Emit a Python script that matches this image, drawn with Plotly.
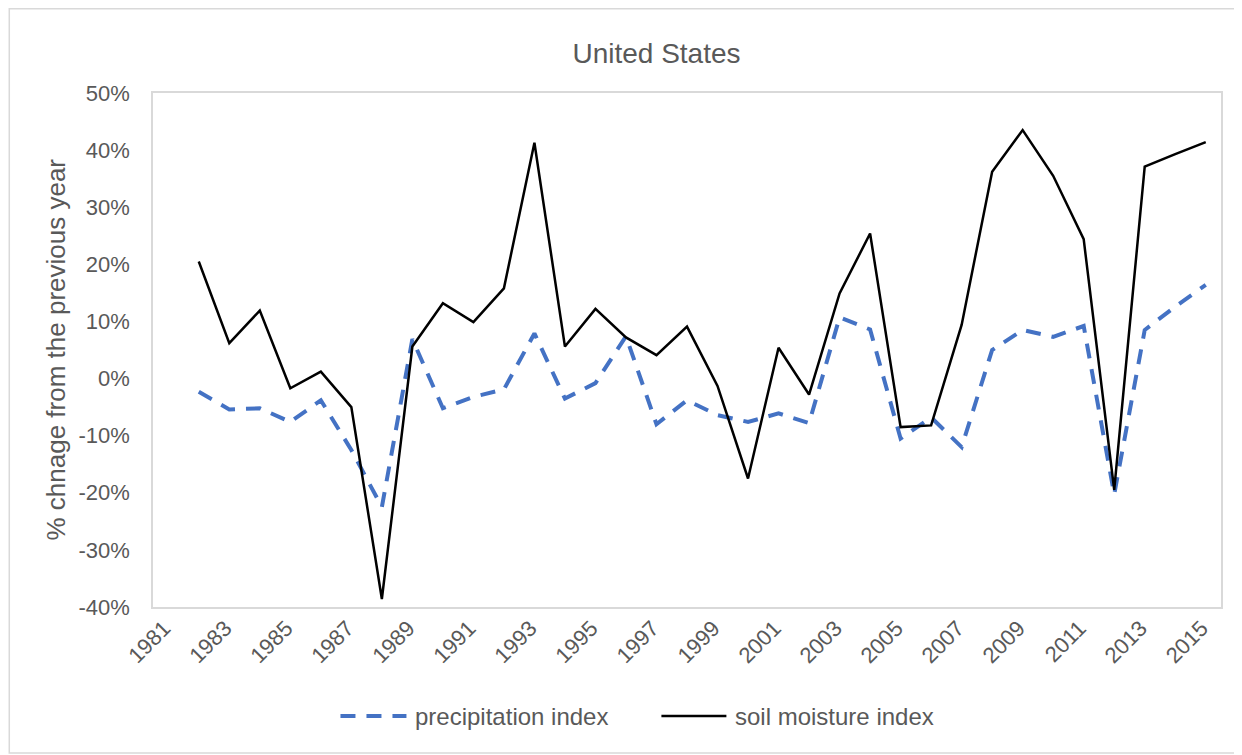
import plotly.graph_objects as go

years = list(range(1982, 2016))
precipitation_index = [-2.3, -5.4, -5.2, -7.6, -3.8, -12.5, -22.5, 6.9, -5.2, -3.2, -1.9, 7.9,
                       -3.5, -0.8, 7.4, -8.0, -3.8, -6.4, -7.6, -6.1, -7.8, 10.7, 8.6, -10.5,
                       -6.8, -12.0, 5.0, 8.5, 7.3, 9.2, -20.3, 8.5, 12.6, 16.4]
soil_moisture_index = [20.5, 6.2, 11.9, -1.7, 1.2, -5.0, -38.6, 5.6, 13.2, 9.9, 15.8, 41.3,
                       5.6, 12.2, 7.2, 4.1, 9.1, -1.3, -17.5, 5.4, -2.8, 14.9, 25.4, -8.5,
                       -8.2, 9.4, 36.2, 43.5, 35.5, 24.4, -19.5, 37.1, 39.3, 41.4]
tick_years = list(range(1981, 2016, 2))
y_ticks = [-40, -30, -20, -10, 0, 10, 20, 30, 40, 50]
series_names = ["precipitation index", "soil moisture index"]
title_text = "United States"
y_title = "% chnage from the previous year"

FONT = "Arial, 'Liberation Sans', sans-serif"
GREY = "#595959"
BLUE = "#4472C4"

fig = go.Figure()
fig.add_trace(go.Scatter(x=years, y=precipitation_index, mode="lines", name=series_names[0],
                         line=dict(color=BLUE, width=4, dash="15px,11px")))
fig.add_trace(go.Scatter(x=years, y=soil_moisture_index, mode="lines", name=series_names[1],
                         line=dict(color="black", width=2.5)))

# page has an 8px body margin; work in page coords and convert
OFF = 8
W, H = 1242 - OFF, 755 - OFF
L, R, T, B = 152.5 - OFF, 1220.7 - OFF, 93 - OFF, 607 - OFF
pw, ph = R - L, B - T

def px(xp):
    return (xp - OFF - L) / pw

def py(yp):
    return (B - (yp - OFF)) / ph

shapes = [
    # outer chart border
    dict(type="rect", xref="paper", yref="paper", x0=(0.75 - L) / pw, x1=(1230 - L) / pw,
         y0=(B - 745) / ph, y1=(B - 0.75) / ph,
         line=dict(color="#D9D9D9", width=1.5), layer="below"),
    # legend symbols
    dict(type="line", xref="paper", yref="paper", x0=px(340), x1=px(406), y0=py(716), y1=py(716),
         line=dict(color=BLUE, width=4, dash="15px,11px")),
    dict(type="line", xref="paper", yref="paper", x0=px(661), x1=px(726), y0=py(716), y1=py(716),
         line=dict(color="black", width=2.5)),
]

annotations = [
    dict(text=y_title, xref="paper", yref="paper", x=px(55), y=0.5, textangle=-90,
         showarrow=False, xanchor="center", yanchor="middle",
         font=dict(family=FONT, size=26, color=GREY)),
    dict(text=series_names[0], xref="paper", yref="paper", x=px(413), y=py(716),
         showarrow=False, xanchor="left", yanchor="middle",
         font=dict(family=FONT, size=24, color=GREY)),
    dict(text=series_names[1], xref="paper", yref="paper", x=px(733), y=py(716),
         showarrow=False, xanchor="left", yanchor="middle",
         font=dict(family=FONT, size=24, color=GREY)),
]

fig.update_layout(
    width=W, height=H,
    margin=dict(l=L, r=W - R, t=T, b=H - B, autoexpand=False),
    paper_bgcolor="white", plot_bgcolor="white",
    showlegend=False,
    title=dict(text=title_text, x=(656.5 - OFF) / W, xanchor="center",
               y=1 - (53 - OFF) / H, yanchor="middle",
               font=dict(family=FONT, size=28, color=GREY)),
    font=dict(family=FONT, color=GREY),
    shapes=shapes,
    annotations=annotations,
)

fig.update_xaxes(range=[1980.5, 2015.5], tickmode="array", tickvals=tick_years,
                 ticktext=[str(y) for y in tick_years], tickangle=-45,
                 tickfont=dict(family=FONT, size=22, color=GREY),
                 showgrid=False, zeroline=False, showline=True, mirror=True,
                 linecolor="#D9D9D9", linewidth=1.5, ticks="", ticklabelstandoff=-2,
                 ticklabelshift=-4)
fig.update_yaxes(range=[-40, 50], tickmode="array", tickvals=y_ticks,
                 ticktext=[f"{v}%" for v in y_ticks],
                 tickfont=dict(family=FONT, size=22, color=GREY),
                 showgrid=False, zeroline=False, showline=True, mirror=True,
                 linecolor="#D9D9D9", linewidth=1.5, ticks="", ticklabelstandoff=17)

fig.write_html("out.html")
